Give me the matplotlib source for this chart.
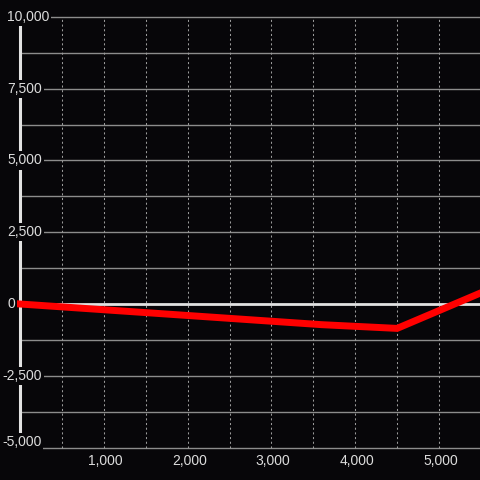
import matplotlib
matplotlib.use("Agg")
import matplotlib.pyplot as plt

# series
X_VALUES = [0, 3600, 4500, 5500]
Y_VALUES = [0, -720, -850, 390]

# axis ticks
Y_LABELED = [10000, 7500, 5000, 2500, 0, -2500, -5000]
Y_GRID = [10000, 8750, 7500, 6250, 5000, 3750, 2500, 1250,
          -1250, -2500, -3750, -5000]
X_LABELED = [1000, 2000, 3000, 4000, 5000]
X_GRID = [500, 1000, 1500, 2000, 2500, 3000, 3500, 4000, 4500, 5000]

# plotting parameters
BG = "#070609"
TEXT = "#dcdcdc"
GRID = "#8c8c8c"
DOTS = "#9a9a9a"
AXIS = "#e2e2e2"
X_LIM = (-239, 5489)
Y_LIM = (-6132, 10592)

plt.rcParams["font.family"] = ["Liberation Sans", "DejaVu Sans"]

fig = plt.figure(figsize=(4.8, 4.8), dpi=100, facecolor=BG)
ax = fig.add_axes([0, 0, 1, 1])
ax.set_facecolor(BG)
ax.set_xlim(*X_LIM)
ax.set_ylim(*Y_LIM)
ax.axis("off")

ax.hlines(Y_GRID, 0, X_LIM[1], colors=GRID, linewidth=1, zorder=1)
ax.vlines(X_GRID, -5000, 10000, colors=DOTS, linewidth=0.75,
          linestyles=(0, (2, 2.5)), zorder=1)
ax.hlines(0, 0, X_LIM[1], colors=AXIS, linewidth=2, zorder=2)
ax.vlines(0, -5000, 10000, colors=AXIS, linewidth=2.2, zorder=2)

ax.plot(X_VALUES, Y_VALUES, color="#ff0000", linewidth=5,
        solid_joinstyle="miter", zorder=3)

box = dict(facecolor=BG, edgecolor="none", pad=1.5)
for v in Y_LABELED:
    label = f"{v:,}"
    x = -155 if v >= 0 else -215
    # bottom label is nudged up to stay above the x labels
    y = v + 180 if v == Y_LABELED[-1] else v
    ax.text(x, y, label, ha="left", va="center", fontsize=10,
            color=TEXT, bbox=box, zorder=4)
for v in X_LABELED:
    ax.text(v + 20, -5480, f"{v:,}", ha="center", va="center",
            fontsize=10, color=TEXT, zorder=4)

fig.savefig("out.png", dpi=100, facecolor=BG)
